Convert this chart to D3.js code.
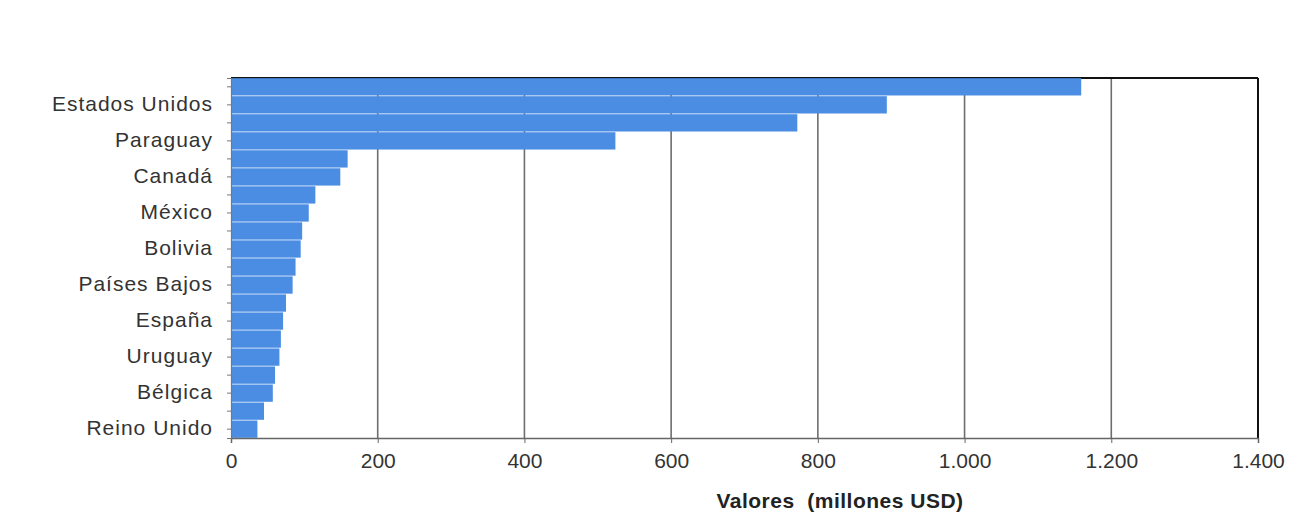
<!DOCTYPE html>
<html>
<head>
<meta charset="utf-8">
<script src="https://cdn.jsdelivr.net/npm/d3@7/dist/d3.min.js"></script>
<style>
  html, body { margin: 0; padding: 0; background: #fff; }
  svg { display: block; font-family: "Liberation Sans", Arial, sans-serif; }
</style>
</head>
<body>
<svg id="chart" width="1290" height="517"></svg>
<script>
const categories = ["China","Estados Unidos","Brasil","Paraguay","Chile","Canadá","Alemania","México","Perú","Bolivia","Colombia","Países Bajos","Italia","España","Japón","Uruguay","Francia","Bélgica","India","Reino Unido"];
const values = [1159, 894, 772, 524, 159, 149, 115, 106, 97, 95, 88, 84, 75, 71, 68, 66, 60, 57, 45, 36];
const xTicks = [0, 200, 400, 600, 800, 1000, 1200, 1400];
const xTickLabels = ["0", "200", "400", "600", "800", "1.000", "1.200", "1.400"];
const axisTitle = "Valores  (millones USD)";

const svg = d3.select("#chart");
const m = { left: 231, right: 1258, top: 78, bottom: 438 };

const x = d3.scaleLinear().domain([0, 1400]).range([m.left, m.right]);
const y = d3.scaleBand().domain(categories).range([m.top, m.bottom]).paddingInner(0.04).paddingOuter(0.01);

// gridlines
svg.append("g").selectAll("line").data(xTicks.slice(1, -1)).join("line")
  .attr("x1", d => x(d)).attr("x2", d => x(d))
  .attr("y1", m.top).attr("y2", m.bottom)
  .attr("stroke", "#6e6e6e").attr("stroke-width", 1.6);

// frame top and right
svg.append("line").attr("x1", m.left).attr("x2", m.right).attr("y1", m.top).attr("y2", m.top)
  .attr("stroke", "#111").attr("stroke-width", 2);
svg.append("line").attr("x1", m.right).attr("x2", m.right).attr("y1", m.top).attr("y2", m.bottom)
  .attr("stroke", "#111").attr("stroke-width", 2);

// bars
svg.append("g").selectAll("rect").data(categories).join("rect")
  .attr("x", x(0))
  .attr("y", d => y(d))
  .attr("width", (d, i) => x(values[i]) - x(0))
  .attr("height", y.bandwidth())
  .attr("fill", "#4a8de3");

// x axis
const xAxis = d3.axisBottom(x).tickValues(xTicks)
  .tickFormat((d, i) => xTickLabels[i]).tickSize(5).tickPadding(10);
const gx = svg.append("g").attr("transform", `translate(0,${m.bottom})`).call(xAxis);
gx.select(".domain").attr("stroke", "#666").attr("stroke-width", 1.5);
gx.selectAll(".tick line").attr("stroke", "#666");
gx.selectAll("text").attr("font-size", 21).attr("fill", "#333")
  .attr("font-family", "'Liberation Sans', Arial, sans-serif");

// y axis
const yAxis = d3.axisLeft(y).tickSize(4).tickPadding(14)
  .tickFormat((d, i) => (i % 2 === 1 ? d : ""));
const gy = svg.append("g").attr("transform", `translate(${m.left},0)`).call(yAxis);
gy.select(".domain").attr("stroke", "#777").attr("stroke-width", 1.2);
gy.selectAll(".tick line").attr("stroke", "#777");
gy.selectAll("text").attr("font-size", 21).attr("fill", "#333")
  .attr("letter-spacing", 1)
  .attr("dy", "0.28em")
  .attr("font-family", "'Liberation Sans', Arial, sans-serif");

// axis title
svg.append("text").attr("x", 840).attr("y", 508).attr("text-anchor", "middle")
  .attr("font-size", 21).attr("font-weight", "bold").attr("fill", "#222")
  .attr("letter-spacing", 0.5)
  .style("white-space", "pre").attr("xml:space", "preserve")
  .text(axisTitle);
</script>
</body>
</html>
